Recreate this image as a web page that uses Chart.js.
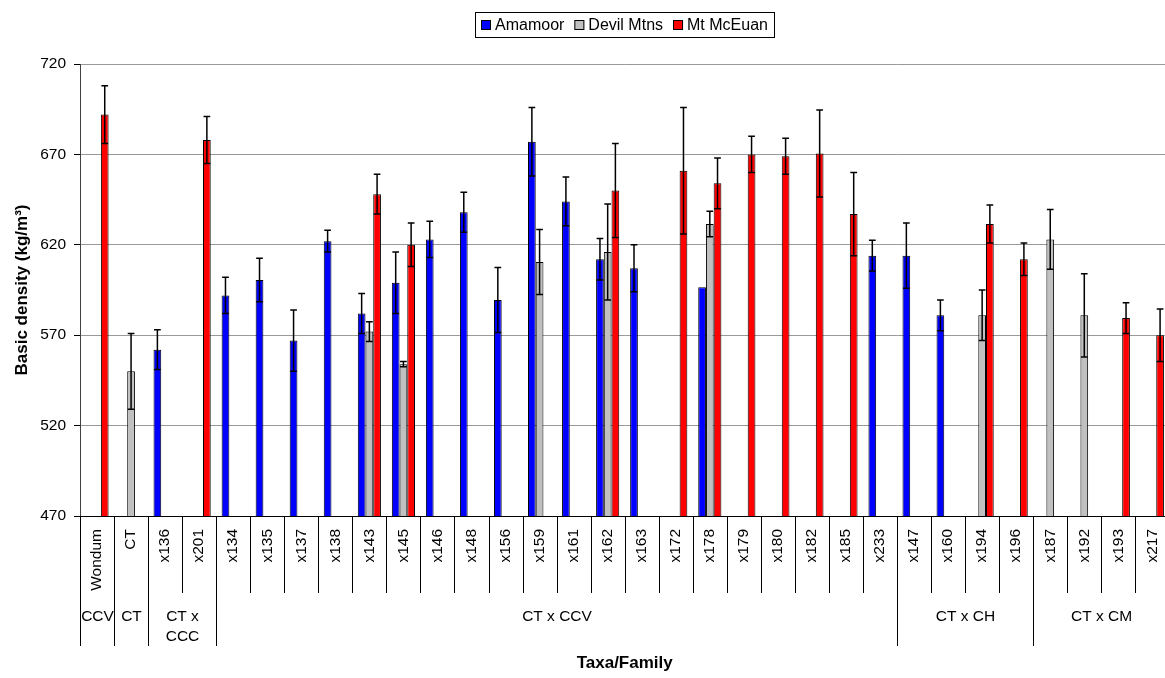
<!DOCTYPE html>
<html>
<head>
<meta charset="utf-8">
<script src="https://cdn.jsdelivr.net/npm/chart.js@4.4.1/dist/chart.umd.min.js"></script>
<style>
    html, body { margin: 0; padding: 0; background: #fff; overflow: hidden; }
    #wrap { width: 1176px; height: 678px; }
</style>
</head>
<body>
<div id="wrap"><canvas id="densityChart" width="1176" height="678"></canvas></div>
<script>
// Taxa / family labels along the x axis
const families = ['Wondum', 'CT', 'x136', 'x201', 'x134', 'x135', 'x137', 'x138', 'x143', 'x145',
    'x146', 'x148', 'x156', 'x159', 'x161', 'x162', 'x163', 'x172', 'x178', 'x179', 'x180',
    'x182', 'x185', 'x233', 'x147', 'x160', 'x194', 'x196', 'x187', 'x192', 'x193', 'x217'];

// Taxa groups below the families (text lines, number of families in group)
const groupLabels = [['CCV'], ['CT'], ['CT x', 'CCC'], ['CT x CCV'], ['CT x CH'], ['CT x CM']];
const groupSizes = [1, 1, 2, 20, 4, 4];

// Basic density means and error (kg/m3) per provenance
const amamoor = [null, null, 562, null, 592, 600.5, 567, 622, 582, 599,
    623, 638, 589.5, 677, 644, 612, 607, null, 596.5, null, null,
    null, null, 614, 614, 581, null, null, null, null, null, null];
const amamoorErr = [null, null, 11, null, 10, 12, 17, 6, 11, 17,
    10, 11, 18, 19, 13.5, 11.5, 13, null, 0, null, null,
    null, null, 8.5, 18, 8.5, null, null, null, null, null, null];

const devilMtns = [null, 550, null, null, null, null, null, null, 572, 554,
    null, null, null, 610.5, null, 616, null, null, 631.5, null, null,
    null, null, null, null, null, 581, null, 623, 581, null, null];
const devilMtnsErr = [null, 21, null, null, null, null, null, null, 5.5, 1.5,
    null, null, null, 18, null, 26.5, null, null, 7, null, null,
    null, null, null, null, null, 14, null, 16.5, 23, null, null];

const mtMcEuan = [692, null, null, 678, null, null, null, null, 648, 620,
    null, null, null, null, null, 650, null, 661, 654, 670, 669,
    670.5, 637, null, null, null, 631.5, 612, null, null, 579.5, 570];
const mtMcEuanErr = [16, null, null, 13, null, null, null, null, 11, 12,
    null, null, null, null, null, 26, null, 35, 14, 10, 10,
    24, 23, null, null, null, 10.5, 9, null, null, 8.5, 14.5];

const yMin = 470;
const yMax = 720;
const yStep = 50;

Chart.defaults.font.family = "'Liberation Sans', Arial, sans-serif";
Chart.defaults.color = '#000';

// Error bars (mean +/- error) on top of each bar
const errorBars = {
    id: 'errorBars',
    afterDatasetsDraw(chart) {
        const ctx = chart.ctx;
        const y = chart.scales.y;
        ctx.save();
        ctx.strokeStyle = '#000';
        ctx.lineWidth = 1.5;
        chart.data.datasets.forEach((ds, i) => {
            chart.getDatasetMeta(i).data.forEach((bar, j) => {
                const v = ds.data[j];
                const e = ds.errors[j];
                if (v == null || !e) return;
                const top = y.getPixelForValue(v + e);
                const bot = y.getPixelForValue(v - e);
                const cap = bar.width / 2 - 0.5;
                ctx.beginPath();
                ctx.moveTo(bar.x, top);
                ctx.lineTo(bar.x, bot);
                ctx.moveTo(bar.x - cap, top);
                ctx.lineTo(bar.x + cap, top);
                ctx.moveTo(bar.x - cap, bot);
                ctx.lineTo(bar.x + cap, bot);
                ctx.stroke();
            });
        });
        ctx.restore();
    }
};

// Family separators, group separators and group labels under the x axis
const taxaGroups = {
    id: 'taxaGroups',
    afterDraw(chart) {
        const ctx = chart.ctx;
        const x = chart.scales.x;
        const base = chart.chartArea.bottom;
        const step = x.getPixelForValue(1) - x.getPixelForValue(0);
        const edge = i => Math.round(x.getPixelForValue(i) - step / 2) + 0.5;

        const bounds = [0];
        groupSizes.forEach(n => bounds.push(bounds[bounds.length - 1] + n));

        ctx.save();
        ctx.strokeStyle = '#000';
        ctx.lineWidth = 1;
        ctx.beginPath();
        for (let i = 0; i <= families.length; i++) {
            const px = edge(i);
            ctx.moveTo(px, base);
            ctx.lineTo(px, base + (bounds.includes(i) ? 130 : 77));
        }
        ctx.stroke();

        ctx.fillStyle = '#000';
        ctx.font = "15.5px 'Liberation Sans', Arial, sans-serif";
        ctx.textAlign = 'center';
        ctx.textBaseline = 'middle';
        groupLabels.forEach((lines, g) => {
            const cx = (edge(bounds[g]) + edge(bounds[g + 1])) / 2;
            lines.forEach((t, k) => ctx.fillText(t, cx, base + 101 + k * 20));
        });
        ctx.restore();
    }
};

// Framed legend centred over the plot area
const framedLegend = {
    id: 'framedLegend',
    afterDraw(chart) {
        const ctx = chart.ctx;
        const area = chart.chartArea;
        const sets = chart.data.datasets;
        const box = 10, gap = 4, spacing = 10, pad = 6, top = 12, h = 25;
        ctx.save();
        ctx.font = "16px 'Liberation Sans', Arial, sans-serif";
        const widths = sets.map(ds => ctx.measureText(ds.label).width);
        const total = pad * 2 + widths.reduce((a, w) => a + box + gap + w, 0) + spacing * (sets.length - 1);
        let left = Math.round((area.left + area.right) / 2 - total / 2);

        ctx.strokeStyle = '#000';
        ctx.lineWidth = 1;
        ctx.strokeRect(left + 0.5, top + 0.5, Math.round(total), h);

        let cx = left + pad;
        const cy = top + h / 2;
        ctx.textBaseline = 'middle';
        ctx.textAlign = 'left';
        sets.forEach((ds, i) => {
            ctx.fillStyle = ds.backgroundColor;
            ctx.fillRect(cx, Math.round(cy - box / 2), box, box);
            ctx.strokeRect(cx + 0.5, Math.round(cy - box / 2) + 0.5, box - 1, box - 1);
            ctx.fillStyle = '#000';
            ctx.fillText(ds.label, cx + box + gap, cy + 1);
            cx += box + gap + widths[i] + spacing;
        });
        ctx.restore();
    }
};

const ctx = document.getElementById('densityChart').getContext('2d');
const densityChart = new Chart(ctx, {
    type: 'bar',
    data: {
        labels: families,
        datasets: [
            { label: 'Amamoor', data: amamoor, errors: amamoorErr,
              backgroundColor: '#0000ff', borderColor: '#000', borderWidth: 1 },
            { label: 'Devil Mtns', data: devilMtns, errors: devilMtnsErr,
              backgroundColor: '#c0c0c0', borderColor: '#000', borderWidth: 1 },
            { label: 'Mt McEuan', data: mtMcEuan, errors: mtMcEuanErr,
              backgroundColor: '#ff0000', borderColor: '#000', borderWidth: 1 }
        ]
    },
    options: {
        responsive: false,
        animation: false,
        layout: { padding: { top: 64, right: 2, bottom: 4, left: 0 } },
        datasets: { bar: { categoryPercentage: 0.68, barPercentage: 1 } },
        plugins: {
            legend: { display: false },
            tooltip: { enabled: false }
        },
        scales: {
            x: {
                grid: { display: false },
                border: { color: '#000', width: 1 },
                ticks: {
                    autoSkip: false, minRotation: 90, maxRotation: 90,
                    padding: 5, color: '#000', font: { size: 15.5 }
                },
                title: {
                    display: true, text: 'Taxa/Family', color: '#000',
                    font: { size: 17, weight: 'bold' }, padding: { top: 0, bottom: 0 }
                },
                afterFit(scale) { scale.height = 158; }
            },
            y: {
                min: yMin,
                max: yMax,
                ticks: { stepSize: yStep, padding: 8, color: '#000', font: { size: 15.5 } },
                grid: { color: '#999', tickColor: '#000', tickLength: 6 },
                border: { color: '#404040', width: 1 },
                title: {
                    display: true, text: 'Basic density (kg/m³)', color: '#000',
                    font: { size: 17, weight: 'bold' }, padding: { top: 12, bottom: 0 }
                },
                afterFit(scale) { scale.width = 80; }
            }
        }
    },
    plugins: [errorBars, taxaGroups, framedLegend]
});
</script>
</body>
</html>
